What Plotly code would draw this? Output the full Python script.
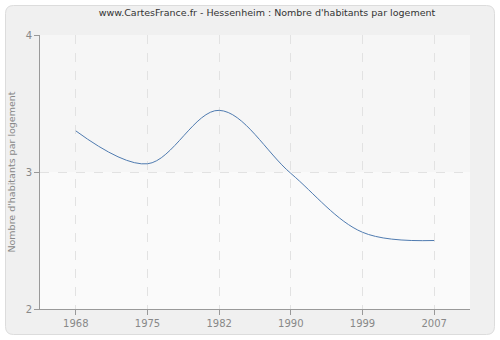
import plotly.graph_objects as go

years = ["1968", "1975", "1982", "1990", "1999", "2007"]
values = [3.30, 3.06, 3.45, 2.99, 2.56, 2.50]
y_ticks = [2, 3, 4]

L, R, T, B = 40, 30, 35, 31
W, H = 500, 340
pw, ph = W - L - R, H - T - B

def px(x):
    return (x - L) / pw

def py(y):
    return (H - B - y) / ph

fig = go.Figure()
fig.add_trace(go.Scatter(
    x=years, y=values, mode="lines",
    line=dict(color="#4f7bb0", width=1, shape="spline", smoothing=1.0),
    hoverinfo="skip", showlegend=False,
))

x0, x1, y0, y1 = px(5.5), px(494.5), py(5.5), py(334.5)
r = 8
rx, ry = r / pw, r / ph
path = (f"M {x0+rx},{y0} L {x1-rx},{y0} Q {x1},{y0} {x1},{y0-ry} "
        f"L {x1},{y1+ry} Q {x1},{y1} {x1-rx},{y1} L {x0+rx},{y1} "
        f"Q {x0},{y1} {x0},{y1+ry} L {x0},{y0-ry} Q {x0},{y0} {x0+rx},{y0} Z")

shapes = [
    dict(type="path", xref="paper", yref="paper", path=path,
         fillcolor="#f0f0f0", line=dict(color="#dcdcdc", width=1), layer="below"),
    dict(type="rect", xref="paper", yref="y", x0=0, x1=1, y0=3, y1=4,
         fillcolor="#f6f6f6", line=dict(width=0), layer="below"),
    dict(type="rect", xref="paper", yref="y", x0=0, x1=1, y0=2, y1=3,
         fillcolor="#fafafa", line=dict(width=0), layer="below"),
]

fig.update_layout(
    width=W, height=H,
    margin=dict(l=L, r=R, t=T, b=B, autoexpand=False),
    paper_bgcolor="#ffffff",
    plot_bgcolor="rgba(0,0,0,0)",
    shapes=shapes,
    font=dict(family="DejaVu Sans", size=10, color="#888888"),
    title=dict(text="www.CartesFrance.fr - Hessenheim : Nombre d'habitants par logement",
               x=267 / W, xref="container", xanchor="center", y=1 - 13 / H, yanchor="middle",
               font=dict(family="DejaVu Sans", size=9.5, color="#333333")),
    xaxis=dict(type="category", range=[-0.5, 5.5], showgrid=True, automargin=False,
               gridcolor="#e2e2e2", griddash="dash", gridwidth=1,
               showline=True, linecolor="#999999", linewidth=1,
               ticks="outside", ticklen=5, tickcolor="#999999",
               tickfont=dict(size=10, color="#888888"), zeroline=False),
    yaxis=dict(range=[2, 4], tickvals=y_ticks, showgrid=True, automargin=False,
               gridcolor="#e2e2e2", griddash="dash", gridwidth=1,
               showline=True, linecolor="#999999", linewidth=1,
               ticks="outside", ticklen=5, tickcolor="#999999",
               tickfont=dict(size=10, color="#888888"), zeroline=False,
               title=dict(text="Nombre d'habitants par logement", standoff=8,
                          font=dict(size=9.5, color="#888888"))),
)

fig.write_html("out.html")
